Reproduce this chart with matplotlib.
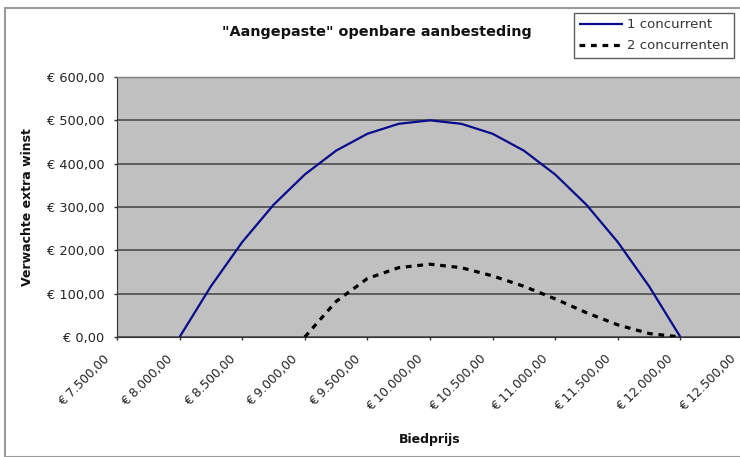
import matplotlib
matplotlib.use("Agg")
import matplotlib.pyplot as plt
from matplotlib.patches import Rectangle
from matplotlib.transforms import ScaledTranslation

plt.rcParams['font.family'] = ['DejaVu Sans']

# Bid prices (euro) and expected extra profit per scenario
bid_one = [8000, 8250, 8500, 8750, 9000, 9250, 9500, 9750, 10000,
           10250, 10500, 10750, 11000, 11250, 11500, 11750, 12000]
profit_one = [0, 117, 219, 305, 375, 430, 469, 492, 500,
              492, 469, 430, 375, 305, 219, 117, 0]

bid_two = [9000, 9250, 9500, 9750, 10000, 10250, 10500, 10750,
           11000, 11250, 11500, 11750, 12000]
profit_two = [0, 82, 135, 160, 168, 160, 141, 117, 88, 56, 28, 8, 0]

x_ticks = [7500, 8000, 8500, 9000, 9500, 10000, 10500, 11000, 11500, 12000, 12500]
x_tick_labels = ['€ 7.500,00', '€ 8.000,00', '€ 8.500,00', '€ 9.000,00', '€ 9.500,00',
                 '€ 10.000,00', '€ 10.500,00', '€ 11.000,00', '€ 11.500,00',
                 '€ 12.000,00', '€ 12.500,00']
y_ticks = [0, 100, 200, 300, 400, 500, 600]
y_tick_labels = ['€ 0,00', '€ 100,00', '€ 200,00', '€ 300,00', '€ 400,00',
                 '€ 500,00', '€ 600,00']

W, H = 740, 457
fig = plt.figure(figsize=(W / 100, H / 100), dpi=100)
fig.patch.set_facecolor('white')

# outer chart frame
fig.patches.append(Rectangle((5 / W, 0), 1.2, 1 - 8 / H, transform=fig.transFigure,
                             fill=False, edgecolor='#9a9a9a', linewidth=1.5))

left, right, top, bottom = 117, 743, 77, 337
ax = fig.add_axes([left / W, 1 - bottom / H, (right - left) / W, (bottom - top) / H])
ax.set_facecolor('#c0c0c0')

ax.plot(bid_one, profit_one, color='#0a0a8c', linewidth=1.6, label='1 concurrent',
        solid_capstyle='butt', zorder=3)
ax.plot(bid_two, profit_two, color='black', linewidth=2.3, linestyle=(0, (1.8, 1.8)),
        label='2 concurrenten', zorder=3)

ax.set_xlim(7500, 12500)
ax.set_ylim(0, 600)
ax.set_yticks(y_ticks)
ax.set_yticklabels(y_tick_labels, fontsize=9.3, color='#222222')
ax.set_xticks(x_ticks)
ax.set_xticklabels(x_tick_labels, fontsize=8.8, color='#222222', rotation=45,
                   ha='right', va='center', rotation_mode='anchor')
ax.tick_params(axis='both', direction='out', length=2.5, width=1, color='#333333')
ax.tick_params(axis='y', pad=6.5)
ax.tick_params(axis='x', pad=12)
shift = ScaledTranslation(-9 / 100, 0, fig.dpi_scale_trans)
for lbl in ax.get_xticklabels():
    lbl.set_transform(lbl.get_transform() + shift)

ax.grid(axis='y', color='#555555', linewidth=1.3)
ax.set_axisbelow(True)
for side in ['top', 'right']:
    ax.spines[side].set_color('#808080')
    ax.spines[side].set_linewidth(1)
ax.spines['left'].set_color('#333333')
ax.spines['bottom'].set_color('#333333')

ax.set_ylabel('Verwachte extra winst', fontsize=9, fontweight='bold', labelpad=9,
              color='#111111')
ax.set_xlabel('Biedprijs', fontsize=9, fontweight='bold', labelpad=14, color='#111111')

fig.text(377 / W, 1 - 32 / H, '"Aangepaste" openbare aanbesteding', fontsize=10.4,
         fontweight='bold', ha='center', va='center', color='#111111')

leg = ax.legend(loc='upper left', bbox_to_anchor=(574 / W, 1 - 13 / H),
                bbox_transform=fig.transFigure, fontsize=9.5, frameon=True,
                fancybox=False, edgecolor='#333333', borderpad=0.4,
                handlelength=3.3, handletextpad=0.3, labelspacing=0.62,
                borderaxespad=0)
leg.get_frame().set_linewidth(1)
for t in leg.get_texts():
    t.set_color('#333333')

fig.savefig('out.png', dpi=100)
